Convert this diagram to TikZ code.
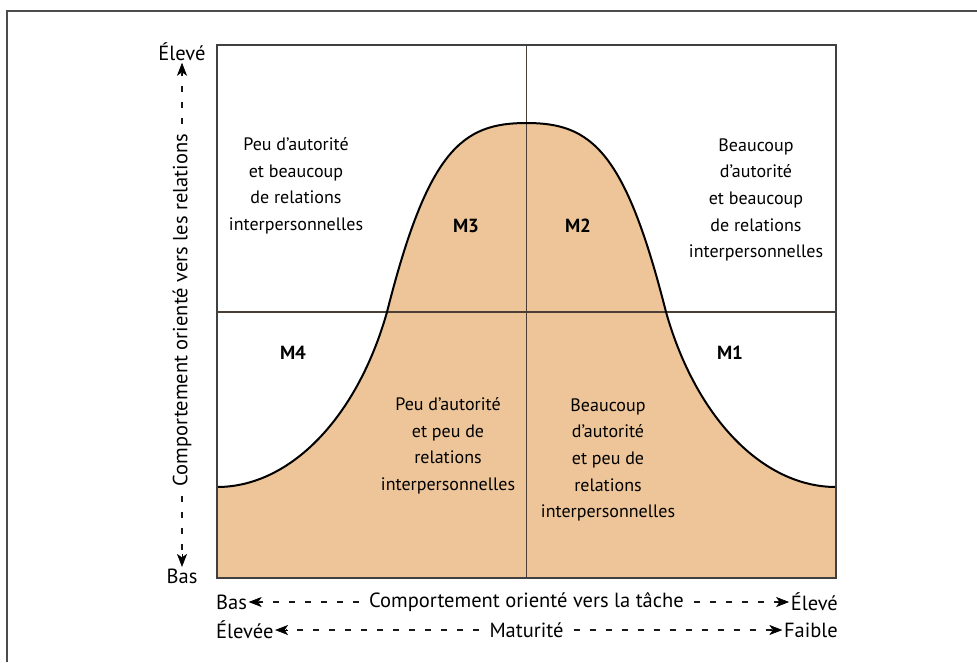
\documentclass[tikz,border=0pt]{standalone}
\usepackage{fontspec}
\setmainfont{PT Sans}
\usetikzlibrary{arrows.meta,calc}
\definecolor{tanfill}{RGB}{237,197,152}
\definecolor{midline}{RGB}{75,62,52}
\begin{document}
\begin{tikzpicture}[x=1pt,y=-1pt,
 lbl/.style={font=\fontsize{18}{26.6}\selectfont, align=center, inner sep=0pt},
 mlbl/.style={font=\fontsize{19}{20}\selectfont\bfseries, inner sep=0pt},
 axtxt/.style={font=\fontsize{20.5}{22}\selectfont, inner sep=0pt},
 dashax/.style={draw=black!90, line width=1.3pt, dash pattern=on 6pt off 10pt, shorten <=10pt, shorten >=12pt},
 tipax/.style={draw=black, fill=black, line width=0.6pt, solid, shorten >=1.5pt, -{Stealth[length=13pt,width=10pt,inset=3.5pt]}},
]
\useasboundingbox (0,0) rectangle (977,662);
% outer frame (cut off at right and bottom)
\draw[line width=1.5pt, black!70] (7,662) -- (7,11) -- (977,11);
% filled bell region
\fill[tanfill] (217,487) .. controls (290,487) and (357,418) .. (387,312)
  .. controls (428,150) and (462,123) .. (526.5,123)
  .. controls (591,123) and (625,150) .. (666,312)
  .. controls (696,418) and (763,487) .. (836,487)
  -- (836,578) -- (217,578) -- cycle;
% quadrant lines
\draw[midline, line width=1.2pt] (526.5,45) -- (526.5,578);
\draw[midline, line width=1.2pt] (217,312) -- (836,312);
% bell curve
\draw[black, line width=2pt] (217,487) .. controls (290,487) and (357,418) .. (387,312)
  .. controls (428,150) and (462,123) .. (526.5,123)
  .. controls (591,123) and (625,150) .. (666,312)
  .. controls (696,418) and (763,487) .. (836,487);
% box
\draw[black!75, line width=1.4pt] (217,45) rectangle (836,578);
% quadrant texts
\node[lbl] (tl) at (296,186) {Peu d’autorité\\et beaucoup\\de relations\\interpersonnelles};
\node[lbl] (tr) at (756,200) {Beaucoup\\d’autorité\\et beaucoup\\de relations\\interpersonnelles};
\node[lbl] (bl) at (448,446) {Peu d’autorité\\et peu de\\relations\\interpersonnelles};
\node[lbl] (br) at (608,460) {Beaucoup\\d’autorité\\et peu de\\relations\\interpersonnelles};
\node[mlbl] (m3) at (466,226) {M3};
\node[mlbl] (m2) at (578,226) {M2};
\node[mlbl] (m4) at (293,353) {M4};
\node[mlbl] (m1) at (730,353) {M1};
% vertical axis
\node[axtxt] (ytop) at (182,52) {Élevé};
\node[axtxt] (ybot) at (182,576) {Bas};
\node[axtxt, rotate=90] (ytxt) at (182,310) {Comportement orienté vers les relations};
\draw[dashax] (ytxt.east) -- (ytop.south);
\draw[tipax] ($(ytop.south)!14pt!(ytxt.east)$) -- (ytop.south);
\draw[dashax] (ytxt.west) -- (ybot.north);
\draw[tipax] ($(ybot.north)!14pt!(ytxt.west)$) -- (ybot.north);
% horizontal axis 1
\node[axtxt, anchor=west] (xlo) at (216,602) {Bas};
\node[axtxt] (xtxt) at (526.5,602) {Comportement orienté vers la tâche};
\node[axtxt, anchor=east] (xhi) at (838,602) {Élevé};
\draw[dashax] (xtxt.west) -- (xlo.east);
\draw[tipax] ($(xlo.east)!14pt!(xtxt.west)$) -- (xlo.east);
\draw[dashax] (xtxt.east) -- (xhi.west);
\draw[tipax] ($(xhi.west)!14pt!(xtxt.east)$) -- (xhi.west);
% horizontal axis 2
\node[axtxt, anchor=west] (mlo) at (216,630) {Élevée};
\node[axtxt] (mtxt) at (526.5,630) {Maturité};
\node[axtxt, anchor=east] (mhi) at (838,630) {Faible};
\draw[dashax] (mtxt.west) -- (mlo.east);
\draw[tipax] ($(mlo.east)!14pt!(mtxt.west)$) -- (mlo.east);
\draw[dashax] (mtxt.east) -- (mhi.west);
\draw[tipax] ($(mhi.west)!14pt!(mtxt.east)$) -- (mhi.west);
\end{tikzpicture}
\end{document}
